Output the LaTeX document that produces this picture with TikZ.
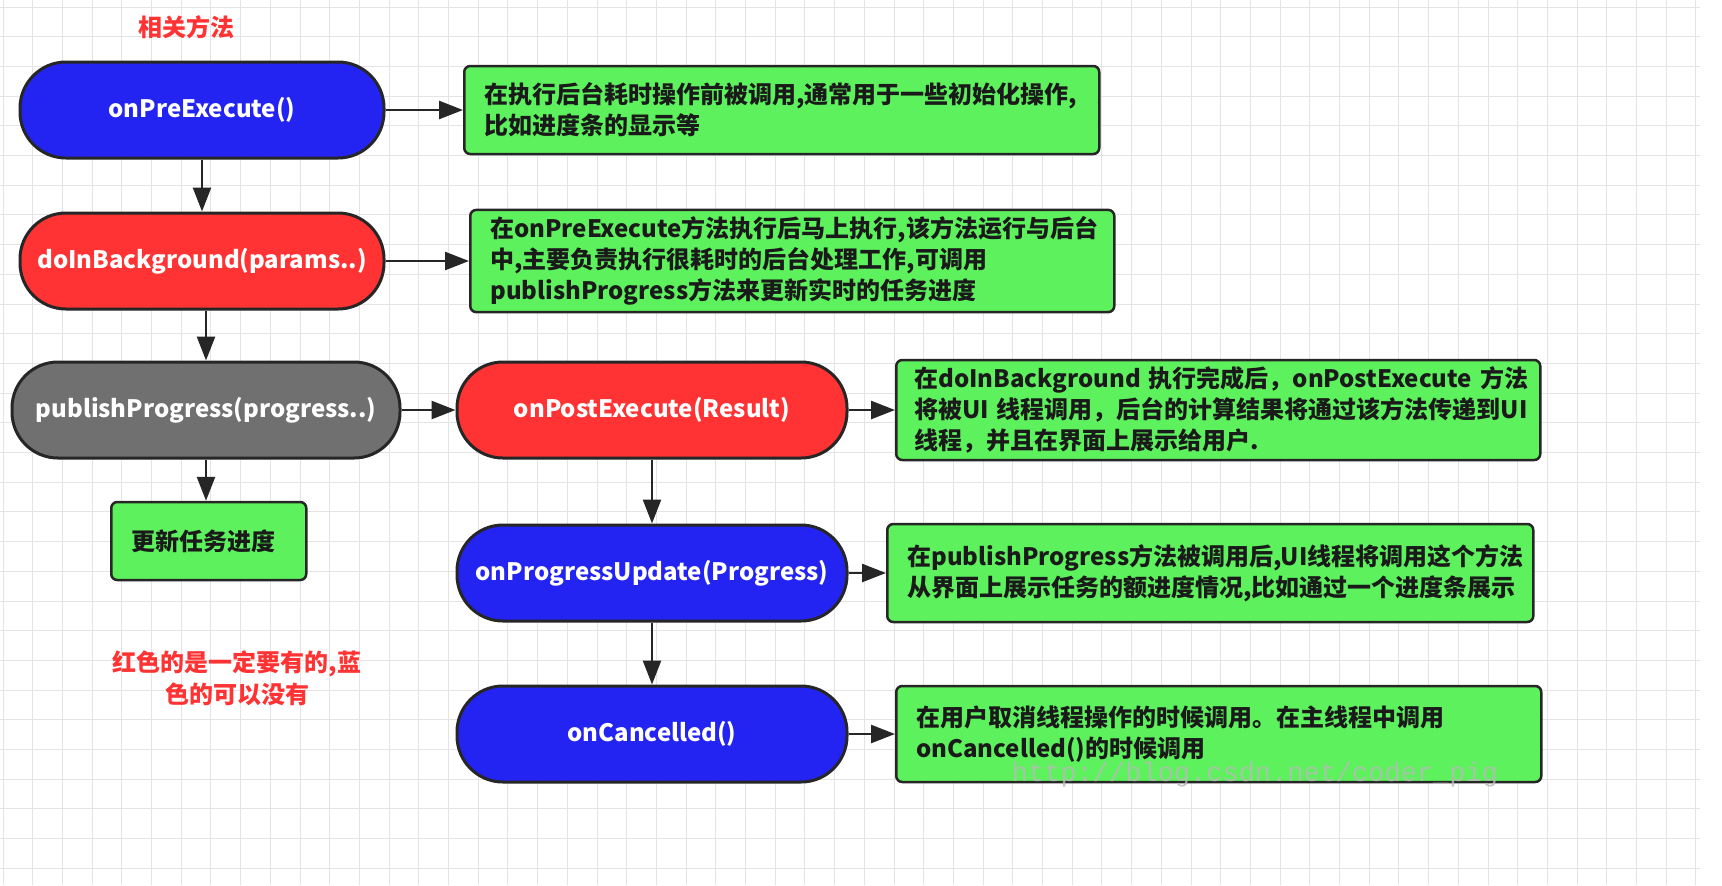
\documentclass[tikz,border=0pt]{standalone}
\usepackage{fontspec}
\setmainfont{Noto Sans CJK SC}
\newfontfamily\urlfont{Liberation Mono}
\usetikzlibrary{arrows.meta}
\definecolor{stepblue}{HTML}{2424F2}
\definecolor{stepred}{HTML}{FF3333}
\definecolor{stepgray}{HTML}{707070}
\definecolor{notegreen}{HTML}{5DF25D}
\definecolor{linedark}{HTML}{262626}
\definecolor{textdark}{HTML}{1A1A1A}
\definecolor{gridgray}{HTML}{E4E4E4}

\begin{document}
\begin{tikzpicture}[x=0.5pt, y=-0.5pt,
	method/.style={draw=linedark, line width=1.5pt, rounded corners=23pt, minimum width=182pt, minimum height=48pt, text=white, font=\bfseries\fontsize{12}{14}\selectfont},
	info/.style={draw=linedark, line width=1.25pt, fill=notegreen, rounded corners=3pt, anchor=west, align=left, inner xsep=10pt, text=textdark, font=\bfseries\fontsize{12}{15.5}\selectfont},
	remark/.style={text=stepred, align=center, font=\bfseries\fontsize{12}{16}\selectfont},
	flow/.style={-{Triangle[length=12pt,width=9pt]}, color=linedark, line width=1.25pt},
	gridline/.style={draw=gridgray, line width=0.5pt}]
	\useasboundingbox (0,0) rectangle (1722,885);
	\fill[white] (0,0) rectangle (1722,885);
	\foreach \gx in {3,32.7,...,1700} \draw[gridline] (\gx,0) -- (\gx,885);
	\foreach \gy in {7,36.7,...,885} \draw[gridline] (0,\gy) -- (1700,\gy);

	\node[remark] (title) at (186,27) {相关方法};

	\node[method, fill=stepblue] (pre) at (202,110) {onPreExecute()};
	\node[method, fill=stepred] (bg) at (202,261) {doInBackground(params..)};
	\node[method, fill=stepgray, minimum width=194pt] (pub) at (206,410) {publishProgress(progress..)};
	\node[method, fill=stepred, minimum width=195pt] (post) at (652,410) {onPostExecute(Result)};
	\node[method, fill=stepblue, minimum width=195pt] (upd) at (652,573) {onProgressUpdate(Progress)};
	\node[method, fill=stepblue, minimum width=195pt] (cancel) at (652,734) {onCancelled()};

	\node[info, text width=297.5pt, minimum height=44pt] (preinfo) at (463,110)
		{在执行后台耗时操作前被调用,通常用于一些初始化操作,\\比如进度条的显示等};
	\node[info, text width=302pt, minimum height=50.5pt] (bginfo) at (469,261)
		{在onPreExecute方法执行后马上执行,该方法运行与后台\\中,主要负责执行很耗时的后台处理工作,可调用\\publishProgress方法来更新实时的任务进度};
	\node[info, text width=304pt, inner xsep=9pt, minimum height=48pt] (postinfo) at (895,410)
		{在doInBackground~执行完成后，onPostExecute~方法\\将被UI~线程调用，后台的计算结果将通过该方法传递到UI\\线程，并且在界面上展示给用户.};
	\node[info, text width=303pt, minimum height=49pt] (updinfo) at (886,573)
		{在publishProgress方法被调用后,UI线程将调用这个方法\\从界面上展示任务的额进度情况,比如通过一个进度条展示};
	\node[info, text width=302.5pt, minimum height=48pt] (cancelinfo) at (895,734)
		{在用户取消线程操作的时候调用。在主线程中调用\\onCancelled()的时候调用};
	\node[info, text width=77.5pt, minimum height=39pt] (task) at (110,541) {更新任务进度};

	\node[remark] (hint) at (237,678) {红色的是一定要有的,蓝\\色的可以没有};
	\node[font=\urlfont\fontsize{13.5}{14}\selectfont, text=gray!55, opacity=0.8] (mark) at (1255,774) {http://blog.csdn.net/coder\_pig};

	\path[flow]
	(pre) edge (preinfo)
	edge (bg)
	(bg) edge (bginfo)
	(bg.south -| pub.north) edge (pub.north)
	(pub) edge (post)
	(pub.south) edge (pub.south |- task.north)
	(post) edge (postinfo)
	edge (upd)
	(upd) edge (updinfo)
	edge (cancel)
	(cancel) edge (cancelinfo)
	;
\end{tikzpicture}
\end{document}
